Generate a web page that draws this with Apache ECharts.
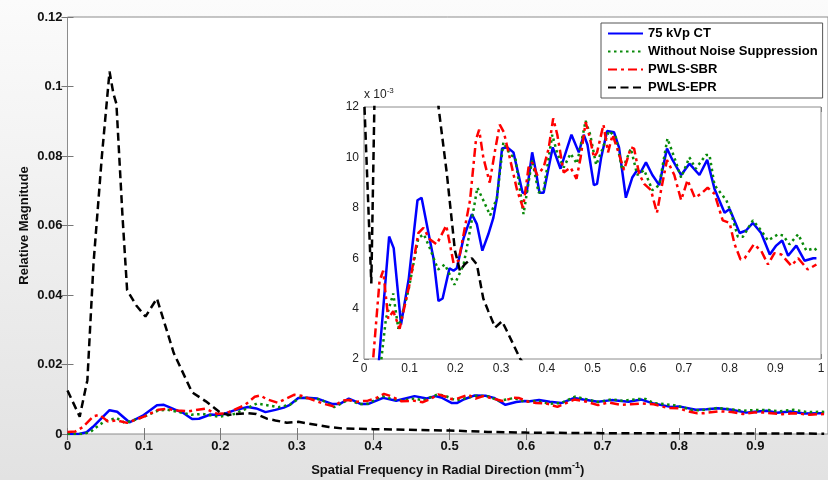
<!DOCTYPE html>
<html>
<head>
<meta charset="utf-8">
<script src="https://cdn.jsdelivr.net/npm/echarts@6/dist/echarts.min.js"></script>
<style>
  html, body { margin: 0; padding: 0; }
  #chart { width: 828px; height: 480px; }
</style>
</head>
<body>
<div id="chart"></div>
<script>
// [spatial frequency (mm^-1), relative magnitude (x 10^-3)]
const ctCurve = [
  [0, 0], [0.015, 0], [0.025, 0.5], [0.033, 2.0], [0.055, 6.86], [0.065, 6.4], [0.081, 3.37], [0.098, 5.2],
  [0.117, 8.3], [0.126, 8.4], [0.14, 7.1], [0.152, 6.0], [0.163, 4.3], [0.172, 4.4], [0.187, 5.6], [0.196, 5.5],
  [0.203, 5.6], [0.218, 6.8], [0.236, 7.75], [0.247, 7.35], [0.259, 6.3], [0.272, 6.95], [0.283, 7.6], [0.291, 8.4],
  [0.302, 10.35], [0.313, 10.4], [0.327, 10.2], [0.347, 8.6], [0.356, 8.6], [0.368, 10.2], [0.375, 9.55], [0.384, 8.6],
  [0.393, 8.6], [0.413, 10.4], [0.43, 9.55], [0.454, 10.9], [0.47, 10.2], [0.481, 10.9], [0.489, 10.5], [0.503, 8.9],
  [0.51, 8.95], [0.519, 10.0], [0.532, 11.05], [0.547, 11.0], [0.558, 10.4], [0.573, 8.4], [0.587, 9.2], [0.598, 9.5],
  [0.605, 9.4], [0.617, 9.8], [0.631, 9.3], [0.646, 8.9], [0.663, 10.35], [0.675, 9.9], [0.694, 9.3], [0.712, 9.75],
  [0.734, 9.3], [0.751, 9.9], [0.767, 8.75], [0.789, 7.8], [0.8, 7.95], [0.822, 7.0], [0.836, 7.1], [0.851, 7.4],
  [0.869, 7.0], [0.888, 6.15], [0.902, 6.5], [0.915, 6.7], [0.928, 6.1], [0.946, 6.5], [0.964, 5.9], [0.983, 6.0],
  [0.99, 6.0]
]

const noSuppressionCurve = [
  [0, 0], [0.02, 0], [0.03, 0.6], [0.038, 2.0], [0.048, 3.6], [0.064, 4.6], [0.075, 3.2], [0.097, 4.7],
  [0.119, 6.8], [0.131, 6.95], [0.144, 6.4], [0.162, 5.55], [0.177, 5.75], [0.198, 4.95], [0.218, 5.75], [0.232, 7.1],
  [0.248, 8.8], [0.261, 8.3], [0.276, 7.7], [0.291, 8.4], [0.305, 10.6], [0.32, 10.1], [0.331, 10.0], [0.349, 7.75],
  [0.368, 9.9], [0.382, 8.6], [0.393, 8.7], [0.412, 10.9], [0.423, 10.15], [0.437, 9.6], [0.452, 10.15], [0.466, 9.75],
  [0.485, 11.45], [0.495, 10.9], [0.508, 9.7], [0.521, 10.3], [0.536, 11.05], [0.551, 10.8], [0.565, 9.5], [0.584, 10.35],
  [0.598, 9.3], [0.613, 9.5], [0.631, 8.7], [0.646, 8.9], [0.664, 10.75], [0.679, 10.0], [0.694, 9.2], [0.712, 10.0],
  [0.726, 9.55], [0.748, 10.1], [0.756, 10.1], [0.767, 8.9], [0.793, 8.3], [0.804, 7.75], [0.818, 6.85], [0.829, 6.85],
  [0.851, 7.5], [0.869, 7.1], [0.884, 6.7], [0.906, 6.95], [0.917, 6.9], [0.931, 6.55], [0.95, 6.95], [0.968, 6.3],
  [0.986, 6.4], [0.99, 6.3]
]

const sbrCurve = [
  [0, 0.6], [0.01, 0.7], [0.02, 2.0], [0.034, 5.1], [0.042, 5.5], [0.053, 3.6], [0.064, 3.9], [0.078, 3.2],
  [0.1, 5.0], [0.119, 7.0], [0.13, 7.2], [0.144, 6.75], [0.159, 6.55], [0.18, 7.3], [0.196, 5.8], [0.207, 5.9],
  [0.232, 8.3], [0.245, 10.7], [0.252, 11.1], [0.261, 10.0], [0.275, 9.0], [0.287, 10.3], [0.297, 11.3], [0.306, 11.0],
  [0.32, 9.9], [0.335, 8.7], [0.348, 8.0], [0.36, 9.6], [0.368, 9.8], [0.379, 9.3], [0.393, 9.6], [0.404, 10.35],
  [0.414, 11.55], [0.423, 10.9], [0.437, 9.4], [0.452, 9.6], [0.465, 9.15], [0.474, 10.0], [0.485, 11.4], [0.494, 10.8],
  [0.503, 10.0], [0.51, 10.2], [0.524, 11.3], [0.534, 10.2], [0.544, 10.9], [0.555, 10.3], [0.569, 9.5], [0.584, 10.4],
  [0.591, 10.35], [0.602, 9.35], [0.613, 8.95], [0.628, 8.7], [0.641, 7.8], [0.65, 8.7], [0.663, 9.9], [0.679, 9.3],
  [0.694, 8.3], [0.708, 9.1], [0.724, 8.4], [0.737, 8.55], [0.752, 8.8], [0.767, 8.55], [0.785, 7.5], [0.8, 7.4],
  [0.811, 6.55], [0.824, 5.95], [0.833, 6.0], [0.853, 6.55], [0.869, 6.3], [0.884, 5.75], [0.898, 6.2], [0.913, 6.15],
  [0.935, 5.7], [0.95, 6.0], [0.971, 5.55], [0.99, 5.75]
]

const eprCurve = [
  [0, 12.5], [0.016, 5.0], [0.026, 15.5], [0.034, 49], [0.045, 80], [0.055, 104.3], [0.06, 98], [0.064, 95],
  [0.072, 62.5], [0.078, 41.4], [0.09, 37], [0.102, 33.8], [0.117, 39], [0.139, 23.3], [0.163, 12], [0.181, 9.4],
  [0.199, 6.3], [0.21, 5.5], [0.22, 5.75], [0.236, 6.0], [0.247, 5.75], [0.261, 4.4], [0.272, 3.9], [0.287, 3.25],
  [0.302, 3.5], [0.313, 3.1], [0.342, 2.0], [0.36, 1.6], [0.4, 1.4], [0.5, 1.0], [0.55, 0.6], [0.6, 0.4],
  [0.7, 0.25], [0.8, 0.2], [0.99, 0.1]
]

const seriesNames = ['75 kVp CT', 'Without Noise Suppression', 'PWLS-SBR', 'PWLS-EPR']

const FONT = '"Liberation Sans", Arial, sans-serif'

const lineDefs = [
  { name: seriesNames[0], data: ctCurve, color: '#0000ff', type: 'solid' },
  { name: seriesNames[1], data: noSuppressionCurve, color: '#0a8a0a', type: [2.5, 3.5] },
  { name: seriesNames[2], data: sbrCurve, color: '#ff0000', type: [9, 4, 3, 4] },
  { name: seriesNames[3], data: eprCurve, color: '#000000', type: [8, 4.5] }
]

const makeSeries = (def, axis) => ({
  name: def.name,
  type: 'line',
  xAxisIndex: axis,
  yAxisIndex: axis,
  data: def.data,
  symbol: 'none',
  clip: true,
  animation: false,
  itemStyle: { color: def.color },
  lineStyle: { color: def.color, width: 2.5, type: def.type }
})

const tickOnly = (extra) => Object.assign({
  type: 'value',
  axisLine: { show: false },
  axisLabel: { show: false },
  splitLine: { show: false },
  axisTick: { show: true, inside: true, length: 6, lineStyle: { color: '#777' } }
}, extra)

const chart = echarts.init(document.getElementById('chart'))

chart.setOption({
  backgroundColor: new echarts.graphic.LinearGradient(0, 0, 0, 1, [
    { offset: 0, color: '#fbfbfb' },
    { offset: 1, color: '#e2e2e2' }
  ]),
  textStyle: { fontFamily: FONT },
  grid: [
    {
      left: 67.5, right: 0, top: 17, bottom: 46,
      show: true, backgroundColor: '#ffffff', borderColor: '#8c8c8c', borderWidth: 1,
      outerBoundsMode: 'none'
    },
    {
      left: 364, right: 7, top: 107, bottom: 121,
      show: true, backgroundColor: '#ffffff', borderColor: '#8c8c8c', borderWidth: 1,
      outerBoundsMode: 'none', z: 3
    }
  ],
  legend: {
    data: seriesNames,
    orient: 'vertical',
    left: 601,
    top: 23,
    padding: [4, 5, 4, 6],
    itemWidth: 35,
    itemHeight: 14,
    itemGap: 5,
    backgroundColor: '#ffffff',
    borderColor: '#555',
    borderWidth: 1,
    borderRadius: 0,
    z: 10,
    itemStyle: { opacity: 0 },
    textStyle: { fontFamily: FONT, fontSize: 13, fontWeight: 'bold', color: '#000' }
  },
  xAxis: [
    {
      type: 'value', gridIndex: 0, min: 0, max: 0.995, interval: 0.1,
      name: '{a|Spatial Frequency in Radial Direction (mm}{s|-1}{a|)}',
      nameLocation: 'middle', nameGap: 27, nameMoveOverlap: false,
      nameTextStyle: {
        rich: {
          a: { fontFamily: FONT, fontSize: 13, fontWeight: 'bold', color: '#111' },
          s: { fontFamily: FONT, fontSize: 9, fontWeight: 'bold', color: '#111', padding: [0, 0, 9, 0] }
        }
      },
      axisLine: { show: false },
      axisTick: { show: true, inside: true, length: 6, lineStyle: { color: '#777' } },
      axisLabel: { showMaxLabel: false, margin: 6, fontSize: 13, fontWeight: 'bold', color: '#111', fontFamily: FONT },
      splitLine: { show: false }
    },
    {
      type: 'value', gridIndex: 1, min: 0, max: 1, interval: 0.1,
      axisLine: { show: false },
      axisTick: { show: true, inside: true, length: 5, lineStyle: { color: '#777' } },
      axisLabel: { margin: 4, fontSize: 12, color: '#222', fontFamily: FONT },
      splitLine: { show: false }
    },
    tickOnly({ gridIndex: 0, position: 'top', min: 0, max: 0.995, interval: 0.1 }),
    tickOnly({ gridIndex: 1, position: 'top', min: 0, max: 1, interval: 0.1, axisTick: { show: true, inside: true, length: 5, lineStyle: { color: '#777' } } })
  ],
  yAxis: [
    {
      type: 'value', gridIndex: 0, min: 0, max: 120, interval: 20,
      name: 'Relative Magnitude',
      nameLocation: 'middle', nameGap: 37, nameMoveOverlap: false,
      nameTextStyle: { fontFamily: FONT, fontSize: 13, fontWeight: 'bold', color: '#111' },
      axisLine: { show: false },
      axisTick: { show: true, inside: true, length: 6, lineStyle: { color: '#777' } },
      axisLabel: {
        margin: 5, fontSize: 13, fontWeight: 'bold', color: '#111', fontFamily: FONT,
        formatter: (v) => String(v / 1000)
      },
      splitLine: { show: false }
    },
    {
      type: 'value', gridIndex: 1, min: 2, max: 12, interval: 2,
      name: '{a|x 10}{s|-3}',
      nameLocation: 'end', nameGap: 1,
      nameTextStyle: {
        align: 'left',
        rich: {
          a: { fontFamily: FONT, fontSize: 12, color: '#222' },
          s: { fontFamily: FONT, fontSize: 8, color: '#222', padding: [0, 0, 8, 0] }
        }
      },
      axisLine: { show: false },
      axisTick: { show: true, inside: true, length: 5, lineStyle: { color: '#777' } },
      axisLabel: { margin: 5, fontSize: 12, color: '#222', fontFamily: FONT },
      splitLine: { show: false }
    },
    tickOnly({ gridIndex: 0, position: 'right', min: 0, max: 120, interval: 20 })
  ],
  series: [
    ...lineDefs.map((d) => makeSeries(d, 0)),
    ...lineDefs.map((d) => makeSeries(d, 1))
  ]
})
</script>
</body>
</html>
